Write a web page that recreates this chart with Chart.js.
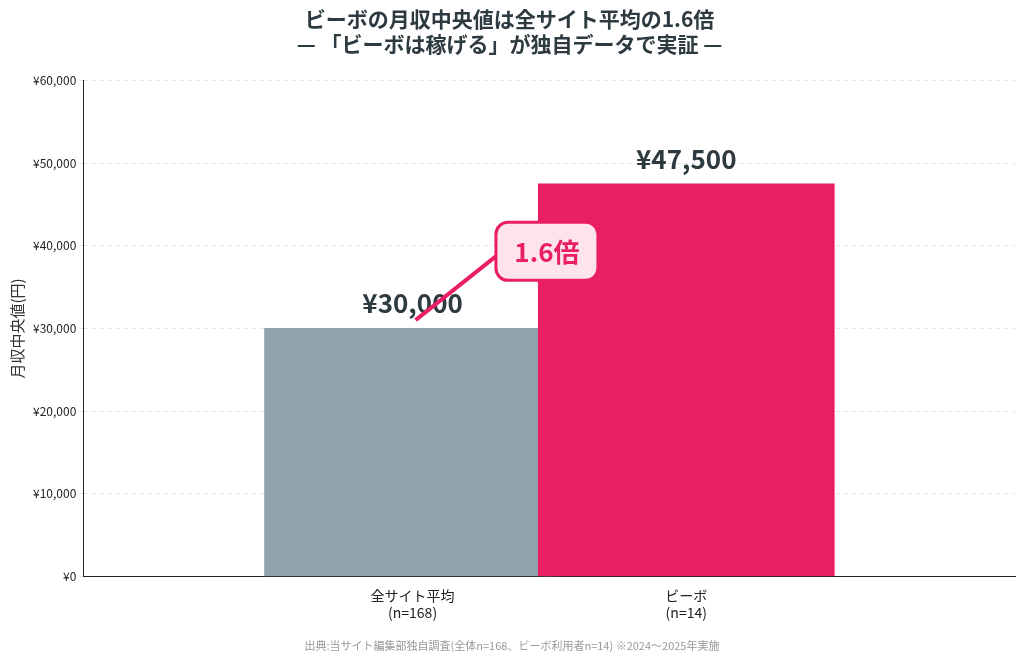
<!DOCTYPE html>
<html>
<head>
<meta charset="utf-8">
<script src="https://cdn.jsdelivr.net/npm/chart.js@4"></script>
<style>
  body { margin: 0; background: #fff; }
  #wrap { width: 1024px; height: 662px; position: relative; }
</style>
</head>
<body>
<div id="wrap"><canvas id="c" width="1024" height="662"></canvas></div>
<script>
const categories = [['全サイト平均', '(n=168)'], ['ビーボ', '(n=14)']];
const values = [30000, 47500];
const valueLabels = ['¥30,000', '¥47,500'];
const barColors = ['#90a4ad', '#e91e63'];
const ratioText = '1.6倍';
const FONT = '"Noto Sans CJK JP", "Noto Sans", sans-serif';

// ラベルと倍率の矢印
const annotate = {
  id: 'annotate',
  afterDatasetsDraw(chart) {
    const ctx = chart.ctx;
    const y = chart.scales.y;
    const bars = chart.getDatasetMeta(0).data;
    ctx.save();
    ctx.fillStyle = '#2d3a40';
    ctx.font = 'bold 26px ' + FONT;
    ctx.textAlign = 'center';
    ctx.textBaseline = 'bottom';
    bars.forEach((b, i) => ctx.fillText(valueLabels[i], b.x, b.y - 12));

    const x1 = bars[0].x + 3, y1 = y.getPixelForValue(31000);
    const x2 = bars[1].x - bars[1].width / 2, y2 = y.getPixelForValue(42800);
    ctx.strokeStyle = '#e91e63';
    ctx.lineWidth = 4;
    ctx.beginPath(); ctx.moveTo(x1, y1); ctx.lineTo(x2, y2); ctx.stroke();

    const cx = (x1 + x2) / 2 + 70, cy = (y1 + y2) / 2 - 20;
    const w = 102, h = 58, r = 12;
    ctx.beginPath();
    ctx.roundRect(cx - w / 2, cy - h / 2, w, h, r);
    ctx.fillStyle = '#fde4ec';
    ctx.fill();
    ctx.lineWidth = 3;
    ctx.stroke();
    ctx.fillStyle = '#e91e63';
    ctx.font = 'bold 26px ' + FONT;
    ctx.textBaseline = 'middle';
    ctx.fillText(ratioText, cx, cy + 1);

    ctx.fillStyle = '#999';
    ctx.font = '11px ' + FONT;
    ctx.fillText('出典:当サイト編集部独自調査(全体n=168、ビーボ利用者n=14) ※2024〜2025年実施', 512, 646);
    ctx.restore();
  }
};

new Chart(document.getElementById('c'), {
  type: 'bar',
  data: {
    datasets: [{
      data: values.map((v, i) => ({ x: i, y: v })),
      backgroundColor: barColors,
      barThickness: 296
    }]
  },
  options: {
    responsive: false,
    animation: false,
    layout: { padding: { left: 4, right: 9, bottom: 38 } },
    plugins: {
      legend: { display: false },
      tooltip: { enabled: false },
      title: {
        display: true,
        text: ['ビーボの月収中央値は全サイト平均の1.6倍', '— 「ビーボは稼げる」が独自データで実証 —'],
        color: '#2d3a40',
        font: { family: FONT, size: 21, weight: 'bold' },
        padding: { top: 6, bottom: 24 }
      }
    },
    scales: {
      x: {
        type: 'linear',
        min: -0.352, max: 1.35,
        afterBuildTicks: s => { s.ticks = [{ value: 0 }, { value: 1 }]; },
        grid: { display: false },
        border: { color: '#222' },
        ticks: { color: '#222', font: { family: FONT, size: 14 },
          callback: v => categories[v] }
      },
      y: {
        min: 0, max: 60000,
        ticks: { stepSize: 10000, color: '#222', font: { family: FONT, size: 12 },
          callback: v => '¥' + v.toLocaleString('en-US') },
        grid: { color: '#e6e6e6', tickLength: 4 },
        border: { color: '#222', dash: [4, 4] },
        title: { display: true, text: '月収中央値(円)', color: '#333', font: { family: FONT, size: 15 } }
      }
    }
  },
  plugins: [annotate]
});
</script>
</body>
</html>
